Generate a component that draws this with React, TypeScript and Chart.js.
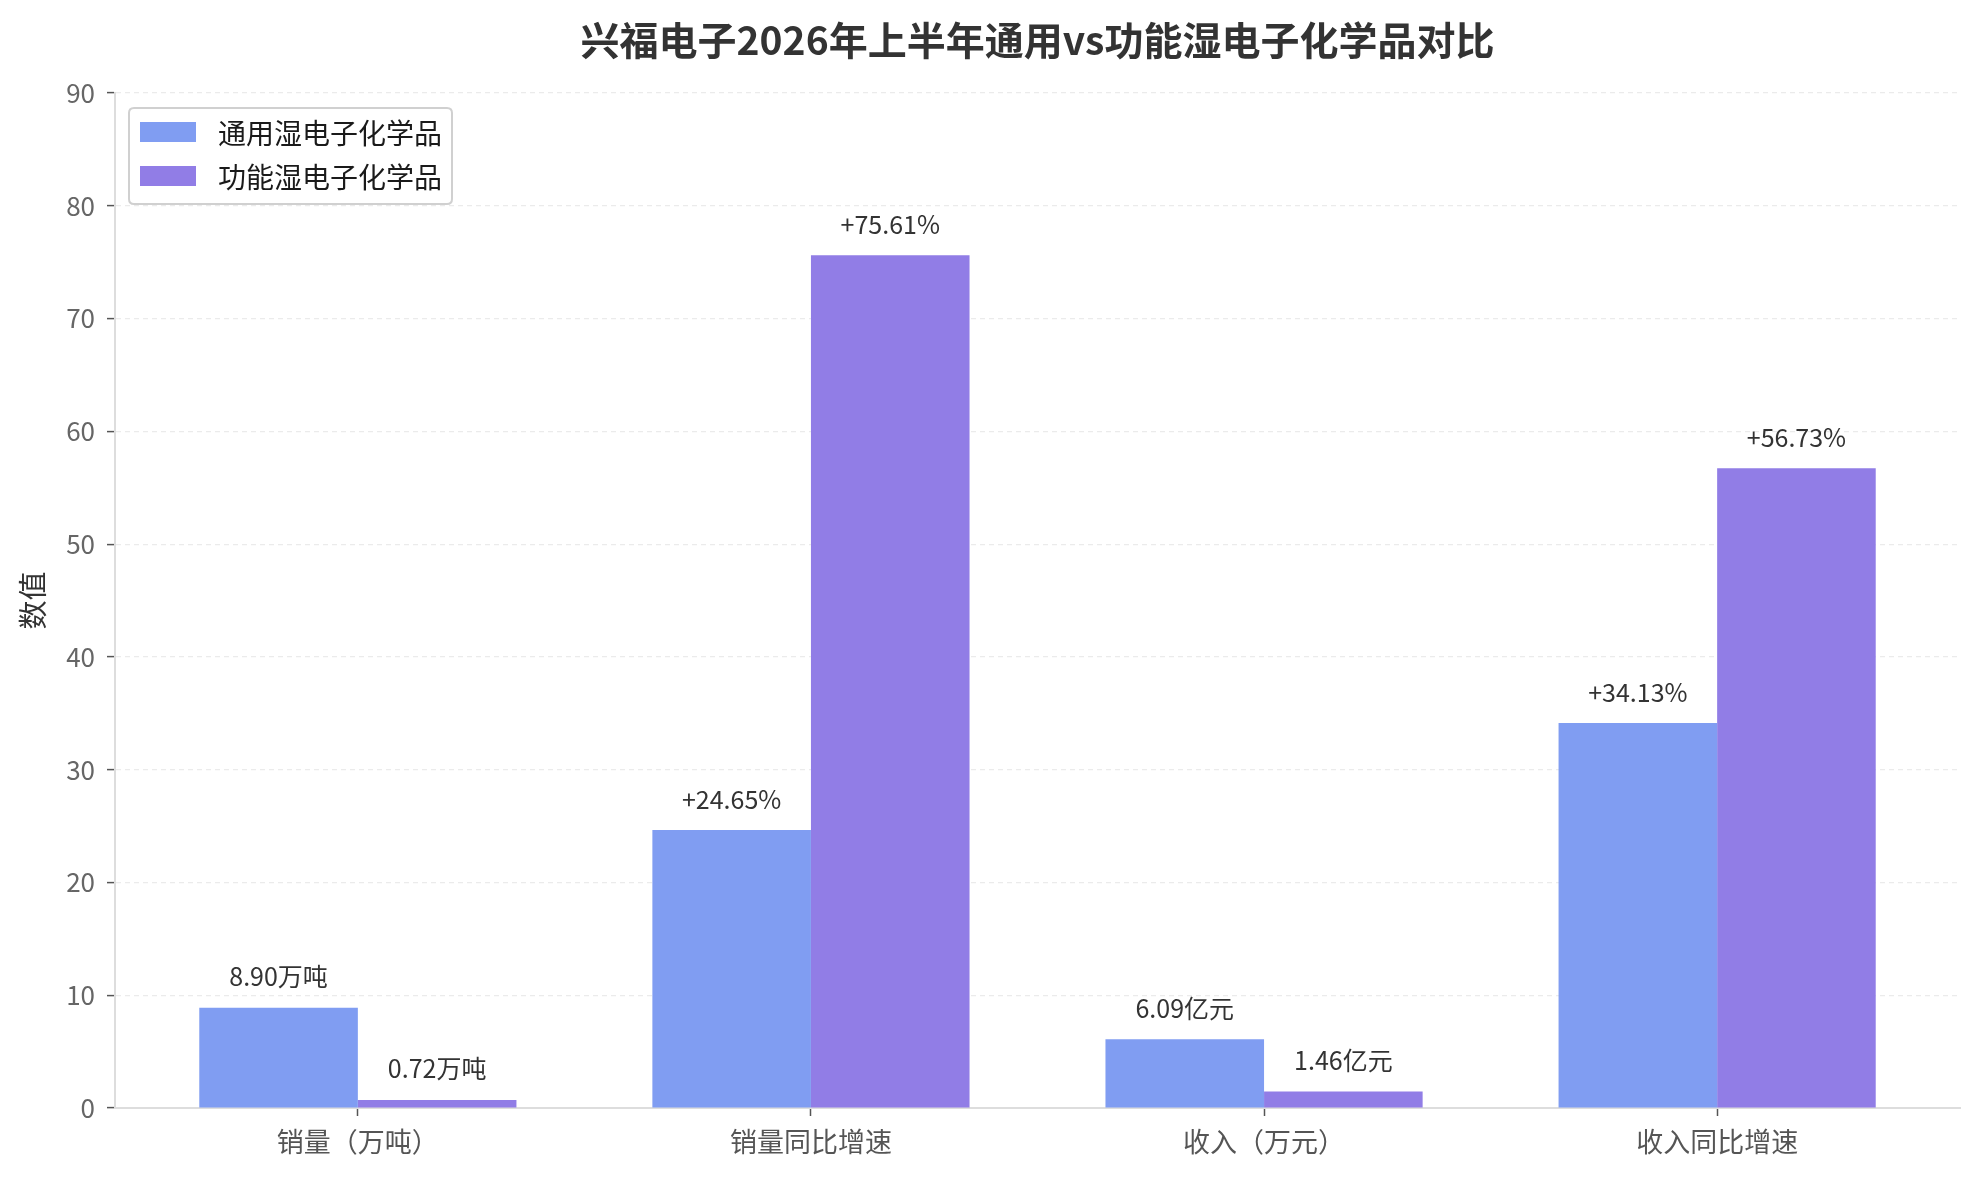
import React, { useEffect, useRef } from "react";
import { Chart, registerables } from "chart.js";

Chart.register(...registerables);

const categories = ["销量（万吨）", "销量同比增速", "收入（万元）", "收入同比增速"];
const seriesNames = ["通用湿电子化学品", "功能湿电子化学品"];
const generalValues = [8.9, 24.65, 6.09, 34.13];
const functionalValues = [0.72, 75.61, 1.46, 56.73];
const generalLabels = ["8.90万吨", "+24.65%", "6.09亿元", "+34.13%"];
const functionalLabels = ["0.72万吨", "+75.61%", "1.46亿元", "+56.73%"];
const yTicks = [0, 10, 20, 30, 40, 50, 60, 70, 80, 90];
const titleText = "兴福电子2026年上半年通用vs功能湿电子化学品对比";
const yTitle = "数值";

const COLORS = ["#809DF2", "#917DE6"];
const FONT = "'Noto Sans CJK SC', 'Noto Sans', sans-serif";

const extrasPlugin = {
  id: "extras",
  afterDatasetsDraw(chart: any) {
    const ctx = chart.ctx;
    const area = chart.chartArea;
    const labelSets = [generalLabels, functionalLabels];
    ctx.save();
    // data labels
    ctx.font = `25px ${FONT}`;
    ctx.fillStyle = "#333333";
    ctx.textAlign = "center";
    ctx.textBaseline = "middle";
    chart.data.datasets.forEach((_: any, di: number) => {
      const meta = chart.getDatasetMeta(di);
      meta.data.forEach((bar: any, i: number) => {
        ctx.fillText(labelSets[di][i], bar.x, bar.y - 31);
      });
    });
    // title
    ctx.font = `bold 39px ${FONT}`;
    ctx.fillStyle = "#333333";
    ctx.fillText(titleText, (area.left + area.right) / 2, 40);
    // y title
    ctx.save();
    ctx.translate(33, (area.top + area.bottom) / 2);
    ctx.rotate(-Math.PI / 2);
    ctx.font = `29px ${FONT}`;
    ctx.fillStyle = "#333333";
    ctx.fillText(yTitle, 0, 0);
    ctx.restore();
    // legend
    const bx = 129, by = 108, bw = 323, bh = 96, r = 5;
    ctx.beginPath();
    ctx.moveTo(bx + r, by);
    ctx.lineTo(bx + bw - r, by);
    ctx.quadraticCurveTo(bx + bw, by, bx + bw, by + r);
    ctx.lineTo(bx + bw, by + bh - r);
    ctx.quadraticCurveTo(bx + bw, by + bh, bx + bw - r, by + bh);
    ctx.lineTo(bx + r, by + bh);
    ctx.quadraticCurveTo(bx, by + bh, bx, by + bh - r);
    ctx.lineTo(bx, by + r);
    ctx.quadraticCurveTo(bx, by, bx + r, by);
    ctx.closePath();
    ctx.fillStyle = "rgba(255,255,255,0.85)";
    ctx.fill();
    ctx.strokeStyle = "#d0d0d0";
    ctx.lineWidth = 2;
    ctx.stroke();
    ctx.font = `28px ${FONT}`;
    ctx.textAlign = "left";
    chart.data.datasets.forEach((ds: any, di: number) => {
      const cy = 132 + di * 44;
      ctx.fillStyle = ds.backgroundColor;
      ctx.fillRect(140, cy - 10, 56, 20);
      ctx.fillStyle = "#1a1a1a";
      ctx.fillText(ds.label, 218, cy + 1);
    });
    ctx.restore();
  },
};

export default function App() {
  const canvasRef = useRef<HTMLCanvasElement | null>(null);

  useEffect(() => {
    if (!canvasRef.current) return;
    Chart.defaults.font.family = FONT;
    const chart = new Chart(canvasRef.current, {
      type: "bar",
      data: {
        datasets: [
          {
            label: seriesNames[0],
            data: generalValues.map((v, i) => ({ x: i, y: v })),
            backgroundColor: COLORS[0],
            borderWidth: 0,
            categoryPercentage: 0.7,
            barPercentage: 1,
          },
          {
            label: seriesNames[1],
            data: functionalValues.map((v, i) => ({ x: i, y: v })),
            backgroundColor: COLORS[1],
            borderWidth: 0,
            categoryPercentage: 0.7,
            barPercentage: 1,
          },
        ],
      },
      options: {
        animation: false,
        responsive: true,
        maintainAspectRatio: false,
        devicePixelRatio: 1,
        layout: { padding: { top: 93, right: 19, left: 0, bottom: 0 } },
        plugins: {
          legend: { display: false },
          title: { display: false },
          tooltip: { enabled: false },
        },
        scales: {
          x: {
            type: "linear",
            min: -0.536,
            max: 3.536,
            offset: false,
            afterBuildTicks: (axis: any) => {
              axis.ticks = categories.map((_, i) => ({ value: i }));
            },
            afterFit: (axis: any) => {
              axis.height = 70;
            },
            ticks: {
              autoSkip: false,
              maxRotation: 0,
              padding: 10,
              color: "#555555",
              font: { size: 27 },
              callback: (v: any) => categories[Math.round(Number(v))] ?? "",
            },
            grid: {
              offset: false,
              drawOnChartArea: false,
              drawTicks: true,
              tickLength: 8,
              tickColor: "#555555",
              tickWidth: 1.5,
            },
            border: { display: true, color: "#dddddd", width: 2 },
          },
          y: {
            min: 0,
            max: 90,
            afterBuildTicks: (axis: any) => {
              axis.ticks = yTicks.map((v) => ({ value: v }));
            },
            afterFit: (axis: any) => {
              axis.width = 115;
            },
            ticks: {
              padding: 12,
              color: "#666666",
              font: { size: 26 },
            },
            grid: {
              color: "#ebebeb",
              lineWidth: 1.2,
              drawTicks: true,
              tickLength: 8,
              tickColor: "#555555",
              tickWidth: 1.5,
              tickBorderDash: [],
            },
            border: { display: true, color: "#dddddd", width: 2, dash: [5, 4] },
          },
        },
      },
      plugins: [extrasPlugin],
    } as any);
    return () => chart.destroy();
  }, []);

  return (
    <div style={{ position: "absolute", left: 0, top: 0, width: 1979, height: 1178, background: "#ffffff" }}>
      <canvas ref={canvasRef} />
    </div>
  );
}
